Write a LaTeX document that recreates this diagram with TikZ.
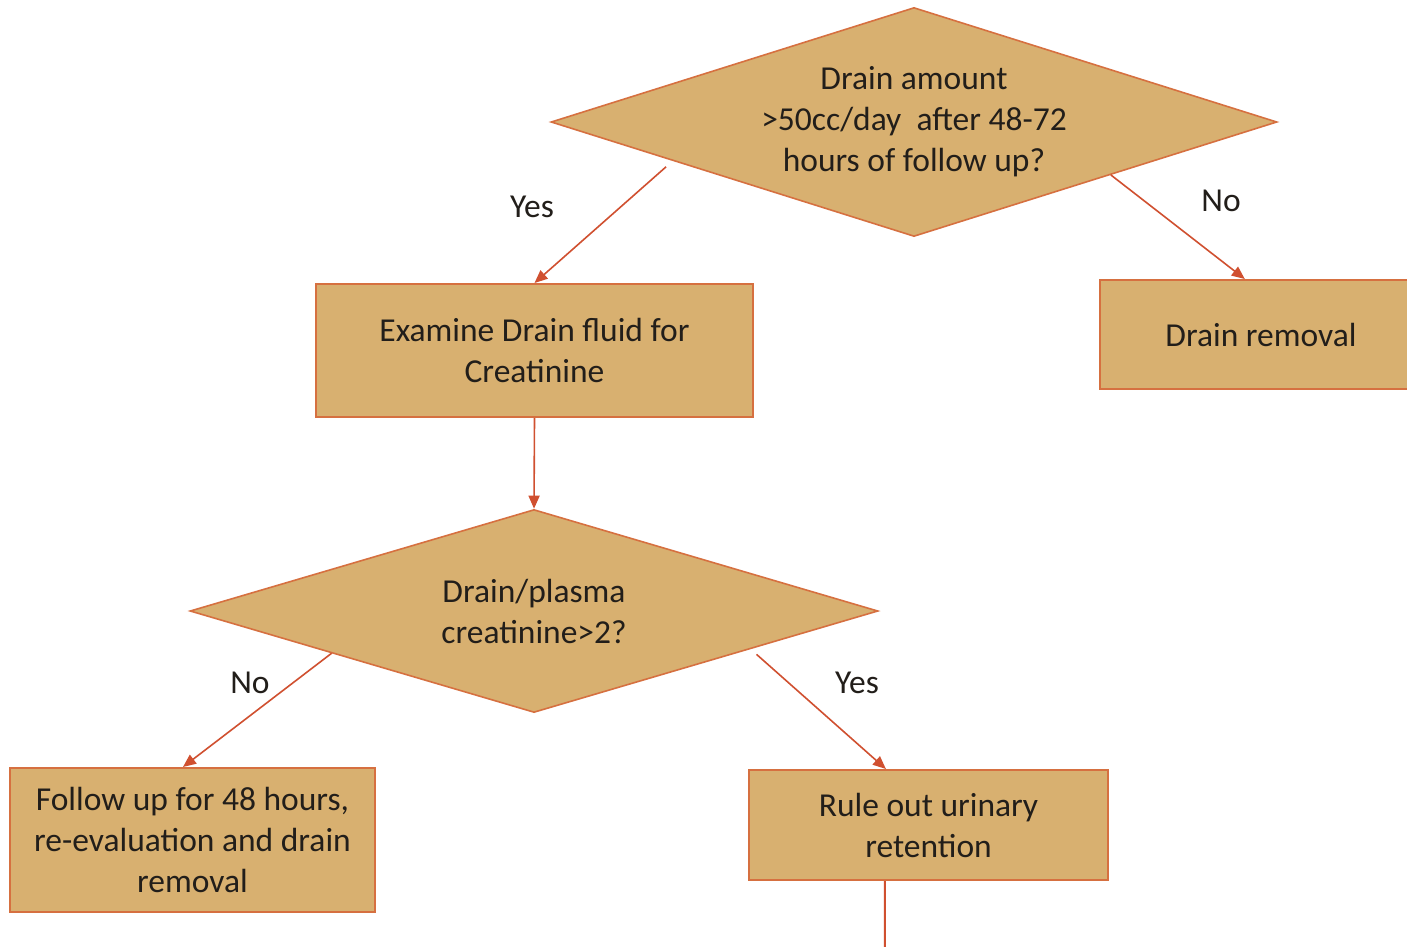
\documentclass[tikz,border=0pt]{standalone}
\usepackage{fontspec}
\setmainfont{Carlito}
\usetikzlibrary{shapes.geometric,arrows.meta,calc}
\definecolor{boxfill}{RGB}{216,176,112}
\definecolor{boxline}{RGB}{214,112,64}
\definecolor{arrowc}{RGB}{208,80,48}
\definecolor{txt}{RGB}{34,30,26}
\tikzset{
  txtstyle/.style={text=txt,font=\fontsize{33.5}{41}\selectfont,align=center},
  procbox/.style={txtstyle,draw=boxline,fill=boxfill,line width=2pt,inner sep=0pt},
  decision/.style={txtstyle,shape=diamond,draw=boxline,fill=boxfill,line width=1.6pt,inner sep=0pt},
  conn/.style={draw=arrowc,line width=1.6pt,-{Triangle[length=13pt,width=11pt]}},
  plainconn/.style={draw=arrowc,line width=2pt},
  lbl/.style={text=txt,font=\fontsize{33.5}{41}\selectfont}
}
\begin{document}
\begin{tikzpicture}[x=1pt,y=-1pt]
\useasboundingbox (0,0) rectangle (1407,946);
\clip (0,0) rectangle (1407,946);
\fill[white] (0,0) rectangle (1407,946);

\node[decision,minimum width=726pt,minimum height=229pt,aspect=3.17] (d1) at (914,122)
  {Drain amount\\>50cc/day\ \ after 48-72\\hours of follow up?};
\node[procbox,minimum width=437pt,minimum height=133pt] (exam) at (534.5,350.5)
  {Examine Drain fluid for\\Creatinine};
\node[procbox,minimum width=322pt,minimum height=109pt] (rem) at (1261,334.5)
  {Drain removal};
\node[decision,minimum width=688pt,minimum height=203pt,aspect=3.39] (d2) at (534,611)
  {Drain/plasma\\creatinine>2?};
\node[procbox,minimum width=365pt,minimum height=144pt] (fol) at (192.5,840)
  {Follow up for 48 hours,\\re-evaluation and drain\\removal};
\node[procbox,minimum width=359pt,minimum height=110pt] (rule) at (928.5,825)
  {Rule out urinary\\retention};

\node[lbl] (yes1) at (532,207) {Yes};
\node[lbl] (no1) at (1221,201) {No};
\node[lbl] (no2) at (250,683) {No};
\node[lbl] (yes2) at (857,683) {Yes};

\draw[conn,shorten <=9pt] ($(d1.west)!0.337!(d1.south)$) -- ($(exam.north west)!0.5!(exam.north east)$);
\draw[conn] ($(d1.south)!0.541!(d1.east)$) -- ($(rem.north west)!0.45!(rem.north east)$);
\draw[conn] (exam.south) -- (d2.north);
\draw[conn] ($(d2.west)!0.413!(d2.south)$) -- ($(fol.north west)!0.474!(fol.north east)$);
\draw[conn,shorten <=8pt] ($(d2.south)!0.628!(d2.east)$) -- ($(rule.north west)!0.382!(rule.north east)$);
\coordinate (tail) at (885,960);
\draw[plainconn] ($(rule.south west)!0.379!(rule.south east)$) -- (tail);
\end{tikzpicture}
\end{document}
